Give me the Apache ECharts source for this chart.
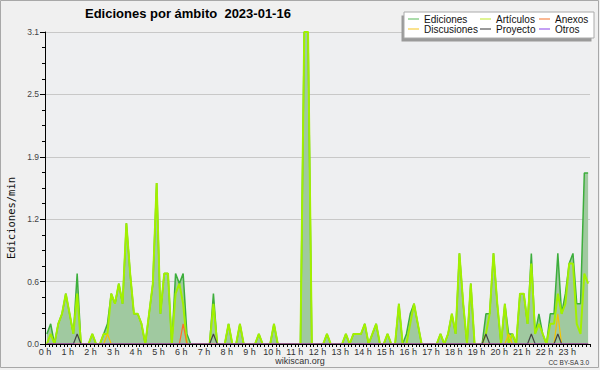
<!DOCTYPE html>
<html><head><meta charset="utf-8">
<script src="https://cdn.jsdelivr.net/npm/echarts@6/dist/echarts.min.js"></script>
<style>html,body{margin:0;padding:0;background:#f0f0f0}#c{width:600px;height:370px}</style>
</head><body><div id="c"></div>
<script>
// hour tick labels (one every 6 ten-minute slots)
const hourLabels = ['0 h','1 h','2 h','3 h','4 h','5 h','6 h','7 h','8 h','9 h','10 h','11 h',
  '12 h','13 h','14 h','15 h','16 h','17 h','18 h','19 h','20 h','21 h','22 h','23 h'];
const yLabels = ['0.0','0.6','1.2','1.9','2.5','3.1'];
const legendNames = ['Ediciones','Artículos','Anexos','Discusiones','Proyecto','Otros'];

// edits per minute, one value per 10-minute slot (144 slots)
const ediciones = [
0.1,0.2,0,0.2,0.3,0.5,0.3,0.1,0.7,0,0,0,
0.1,0,0,0.1,0.2,0.5,0.4,0.6,0.4,1.2,0.7,0.3,
0.3,0.2,0,0.3,0.6,1.6,0.3,0.7,0.7,0,0.7,0.6,
0.7,0.1,0,0,0,0,0,0,0.5,0,0,0,
0.2,0,0,0.2,0,0,0,0,0.1,0,0,0,
0.2,0,0,0,0,0,0,0,3.1,3.1,0,0,
0,0,0.1,0,0,0,0,0.1,0,0.1,0.1,0.1,
0.2,0,0.1,0.2,0,0,0.1,0,0,0.4,0,0.1,
0.3,0.4,0.2,0,0,0,0,0,0.1,0,0.1,0.3,
0.1,0.9,0.4,0,0.6,0,0,0,0.3,0.3,0.9,0.4,
0,0.4,0.1,0.1,0,0.5,0.5,0.2,0.9,0.1,0.3,0.1,
0,0.3,0.3,0.9,0.3,0.5,0.8,0.9,0.4,0.4,1.7,1.7
];
const articulos = [
0,0.1,0,0.2,0.3,0.5,0.3,0.1,0.5,0,0,0,
0.1,0,0,0.1,0.1,0.5,0.4,0.6,0.4,1.2,0.7,0.3,
0.3,0.2,0,0.3,0.6,1.6,0.3,0.7,0.7,0,0.5,0.6,
0.4,0,0,0,0,0,0,0,0.4,0,0,0,
0.2,0,0,0.2,0,0,0,0,0.1,0,0,0,
0.2,0,0,0,0,0,0,0,3.1,3.1,0,0,
0,0,0.1,0,0,0,0,0.1,0,0.1,0.1,0.1,
0.2,0,0.1,0.2,0,0,0.1,0,0,0.4,0,0,
0.2,0.4,0.2,0,0,0,0,0,0.1,0,0.1,0.3,
0.1,0.9,0.4,0,0.6,0,0,0,0.1,0.3,0.9,0.4,
0,0.4,0,0.1,0,0.5,0.5,0.2,0.8,0.1,0.2,0.1,
0,0.2,0.2,0.5,0.3,0.4,0.8,0.8,0.2,0.1,0.7,0.6
];
// sparse series: slot -> value (all other slots are zero)
const anexos = {36:0.2};
const discusiones = {16:0.1, 122:0.1, 135:0.3};
const proyecto = {8:0.1, 44:0.1, 116:0.1, 128:0.1, 135:0.1};
const otros = {};

const SLOTS = ediciones.length;
function fromArray(a){ return a.map((v,i)=>[i+0.5, v]); }
function fromSparse(o){ const r=[]; for(let i=0;i<SLOTS;i++){ r.push([i+0.5, o[i]!==undefined?o[i]:0]); } return r; }

const chart = echarts.init(document.getElementById('c'), null, {renderer:'svg'});
const FONT = 'Liberation Sans';
function lineSeries(name, data, color, width, z, legendColor){
  return {name, type:'line', data, symbol:'none', showSymbol:false, z,
    lineStyle:{color, width}, itemStyle:{color:legendColor}, emphasis:{disabled:true}, animation:false};
}
function legendCol(names, left){
  return {data:names, orient:'vertical', left, top:14, itemWidth:11, itemHeight:1.5, itemGap:0,
    icon:'rect', padding:0, selectedMode:false, z:7,
    textStyle:{fontFamily:FONT, fontSize:10, lineHeight:10, color:'#111', padding:0}};
}
const edi = lineSeries(legendNames[0], fromArray(ediciones), '#3cae3c', 1.5, 2, '#8fd08f');
edi.areaStyle = {color:'#a0c9a0', opacity:1};
const option = {
  animation:false,
  backgroundColor:'#f0f0f0',
  grid:{left:45, right:10, top:32, bottom:26, show:true, backgroundColor:'#eeeff1', borderWidth:0},
  xAxis:{type:'value', min:0, max:144, interval:6, z:10,
    axisLine:{show:true, lineStyle:{color:'#000', width:1}},
    axisTick:{show:true, length:3, lineStyle:{color:'#000'}},
    minorTick:{show:true, splitNumber:6, length:3, lineStyle:{color:'#000'}},
    splitLine:{show:false},
    axisLabel:{margin:3, fontFamily:FONT, fontSize:9, color:'#333', showMaxLabel:false,
      formatter:v=>hourLabels[Math.round(v/6)]||''}},
  yAxis:{type:'value', min:0, max:3.1, interval:0.62,
    axisLine:{show:true, lineStyle:{color:'#000', width:1}},
    axisTick:{show:true, length:5, lineStyle:{color:'#000'}},
    minorTick:{show:true, splitNumber:4, length:3, lineStyle:{color:'#000'}},
    splitLine:{show:true, lineStyle:{color:'#c8c8c8', width:1}},
    axisLabel:{margin:6, fontFamily:FONT, fontSize:8.5, color:'#444',
      formatter:v=>yLabels[Math.round(v/0.62)]}},
  legend:[
    legendCol([legendNames[0], legendNames[3]], 408),
    legendCol([legendNames[1], legendNames[4]], 480),
    legendCol([legendNames[2], legendNames[5]], 539)
  ],
  graphic:[
    {type:'rect', z:0, silent:true, shape:{x:0.5,y:0.5,width:598,height:367}, style:{fill:'none', stroke:'#a8a8a8', lineWidth:1}},
    {type:'rect', z:6, silent:true, shape:{x:401.5,y:15.5,width:190,height:26}, style:{fill:'#9a9a9a'}},
    {type:'rect', z:6, silent:true, shape:{x:404,y:12,width:190,height:26}, style:{fill:'#ffffff', stroke:'#aaaaaa', lineWidth:1}},
    {type:'text', z:8, silent:true, style:{x:85, y:13.8, text:'Ediciones por ámbito  2023-01-16', fontFamily:FONT, fontWeight:'bold', fontSize:13, fill:'#000', align:'left', verticalAlign:'middle'}},
    {type:'text', z:8, silent:true, x:10.5, y:218, rotation:Math.PI/2, style:{x:0, y:0, text:'Ediciones/min', fontFamily:'DejaVu Sans Mono', fontSize:10.5, fill:'#111', align:'center', verticalAlign:'middle'}},
    {type:'text', z:8, silent:true, style:{x:300, y:361, text:'wikiscan.org', fontFamily:FONT, fontSize:9, fill:'#333', align:'center', verticalAlign:'middle'}},
    {type:'text', z:8, silent:true, style:{x:589, y:362.5, text:'CC BY-SA 3.0', fontFamily:FONT, fontSize:6.5, fill:'#333', align:'right', verticalAlign:'middle'}}
  ],
  series:[
    edi,
    lineSeries(legendNames[1], fromArray(articulos), '#a2f000', 2, 3, '#d4f070'),
    lineSeries(legendNames[2], fromSparse(anexos), '#ff6a2a', 1.2, 4, '#f8a070'),
    lineSeries(legendNames[3], fromSparse(discusiones), '#f5c400', 1.2, 4, '#f8d868'),
    lineSeries(legendNames[4], fromSparse(proyecto), '#444444', 1.2, 5, '#777777'),
    lineSeries(legendNames[5], fromSparse(otros), '#9a3cf0', 1.2, 5, '#b080f0')
  ]
};
chart.setOption(option);
</script></body></html>
